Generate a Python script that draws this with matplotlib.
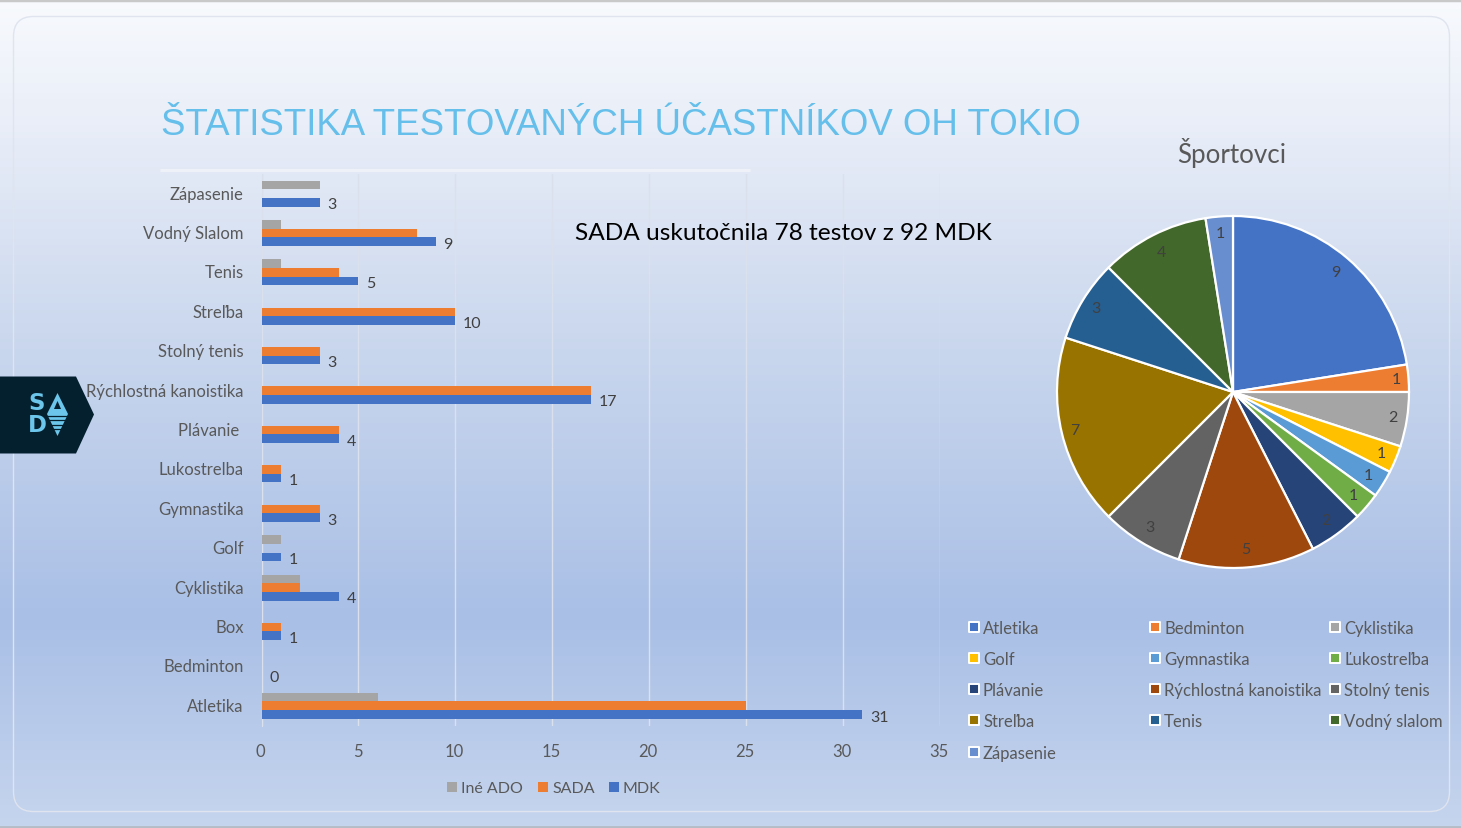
import matplotlib
matplotlib.use("Agg")
import matplotlib.pyplot as plt
import numpy as np
from matplotlib.colors import LinearSegmentedColormap
from matplotlib.patches import FancyBboxPatch, Polygon
from matplotlib.transforms import ScaledTranslation

W, H = 1461, 829

sports = ["Atletika", "Bedminton", "Box", "Cyklistika", "Golf", "Gymnastika", "Lukostrelba",
          "Plávanie ", "Rýchlostná kanoistika", "Stolný tenis", "Streľba", "Tenis",
          "Vodný Slalom", "Zápasenie"]
mdk = [31, 0, 1, 4, 1, 3, 1, 4, 17, 3, 10, 5, 9, 3]
sada = [25, 0, 1, 2, 0, 3, 1, 4, 17, 3, 10, 4, 8, 0]
ine_ado = [6, 0, 0, 2, 1, 0, 0, 0, 0, 0, 0, 1, 1, 3]

pie_names = ["Atletika", "Bedminton", "Cyklistika", "Golf", "Gymnastika", "Ľukostreľba", "Plávanie",
             "Rýchlostná kanoistika", "Stolný tenis", "Streľba", "Tenis", "Vodný slalom", "Zápasenie"]
pie_values = [9, 1, 2, 1, 1, 1, 2, 5, 3, 7, 3, 4, 1]
pie_colors = ["#4472c4", "#ed7d31", "#a5a5a5", "#ffc000", "#5b9bd5", "#70ad47", "#264478",
              "#9e480e", "#636363", "#997300", "#255e91", "#43682b", "#698ed0"]
# how far out each pie label sits, excel places them one by one
label_r = [.898, .929, .92, .912, .903, .902, .897, .894, .902, .925, .916, .894, .906]

plt.rcParams["font.family"] = ["Lato", "DejaVu Sans"]
TXT = "#595959"
LOGO = "#6cc5ea"
DARK = "#04202f"

fig = plt.figure(figsize=(W / 100, H / 100), dpi=100)

# background slide, pixel coordinates
bg = fig.add_axes([0, 0, 1, 1], zorder=0)
bg.set_xlim(0, W)
bg.set_ylim(H, 0)
bg.axis("off")
cmap = LinearSegmentedColormap.from_list("slide", [
    (0, "#f8fafd"), (0.15, "#e9eef8"), (0.4, "#cbd8ee"), (0.75, "#a9bfe6"), (1, "#c6d5ee")])
bg.imshow(np.linspace(0, 1, 256)[:, None], cmap=cmap, extent=[0, W, H, 0], aspect="auto")
bg.plot([0, W], [1, 1], color="#c9c9c9", lw=2.5)
bg.plot([0, W], [828, 828], color="#b5bcc6", lw=2)
bg.add_patch(FancyBboxPatch((13.5, 17.5), 1436, 795, boxstyle="round,pad=0,rounding_size=20",
                            fc="none", ec="#dfe4ee", lw=1))
bg.plot([160, 750], [171, 171], color="#eef2f8", lw=2.2, solid_capstyle="butt")

bg.text(161, 135, "ŠTATISTIKA TESTOVANÝCH ÚČASTNÍKOV OH TOKIO", family="Liberation Sans",
        fontsize=26.4, color="#65bfea", va="baseline", ha="left")
bg.text(1232, 153, "Športovci", fontsize=18.7, color=TXT, va="center", ha="center")

# logo
bg.add_patch(Polygon([(0, 377.5), (76, 377.5), (94, 415.5), (76, 454.5), (0, 454.5)], fc=DARK, ec="none"))
bg.text(37, 403, "S", family="DejaVu Sans", weight="bold", fontsize=16.5, color=LOGO, ha="center", va="center")
bg.text(37, 426, "D", family="DejaVu Sans", weight="bold", fontsize=16.5, color=LOGO, ha="center", va="center")
bg.add_patch(Polygon([(57.5, 394), (68, 415), (57.5, 437), (47, 415)], fc=LOGO, ec="none"))
bg.add_patch(Polygon([(57.5, 402), (61, 410), (54, 410)], fc=DARK, ec="none"))
for yy in [416.5, 421, 425.5, 430]:
    bg.plot([28, 69], [yy, yy], color=DARK, lw=0.9)

# bar legend
for x0, name, col in [(447, "Iné ADO", "#a5a5a5"), (538, "SADA", "#ed7d31"), (609, "MDK", "#4472c4")]:
    bg.scatter([x0 + 5], [788], s=52, marker="s", color=col, linewidths=0)
    bg.text(x0 + 14, 789, name, fontsize=11.5, color=TXT, va="center")

# pie legend
leg_x = [968, 1149, 1329]
leg_y = [629, 660, 691, 722, 754]
for i, (name, col) in enumerate(zip(pie_names, pie_colors)):
    x0, y0 = leg_x[i % 3], leg_y[i // 3]
    bg.scatter([x0 + 5.5], [y0 - 1], s=48, marker="s", color=col, edgecolors="white", linewidths=1.4)
    bg.text(x0 + 15, y0, name, fontsize=12, color=TXT, va="center")

# bars
ax = fig.add_axes([261.5 / W, 1 - 726.5 / H, (940 - 261.5) / W, (726.5 - 175) / H], zorder=1)
ax.patch.set_alpha(0)
y = np.arange(len(sports))
h = 0.22
bars_mdk = ax.barh(y - h, mdk, h, color="#4472c4", zorder=3)
ax.barh(y, sada, h, color="#ed7d31", zorder=3)
ax.barh(y + h, ine_ado, h, color="#a5a5a5", zorder=3)
for lab in ax.bar_label(bars_mdk, padding=5.4, fontsize=11.5, color="#404040"):
    lab.xyann = (lab.xyann[0], -1.5)
ax.set_xlim(0, 35)
ax.set_ylim(-0.5, len(sports) - 0.5)
ax.set_yticks(y)
ax.set_yticklabels(sports, fontsize=12, color=TXT)
ax.set_xticks(range(0, 40, 5))
ax.tick_params(axis="x", length=0, labelsize=12, labelcolor=TXT, pad=12.5)
ax.tick_params(axis="y", length=0, pad=12.7)
for lab in ax.get_yticklabels():
    lab.set_transform(lab.get_transform() + ScaledTranslation(0, 1.5 / 100, fig.dpi_scale_trans))
for lab in ax.get_xticklabels():
    lab.set_transform(lab.get_transform() + ScaledTranslation(-1 / 100, 0, fig.dpi_scale_trans))
ax.grid(axis="x", color="#dbe1ec", lw=1, zorder=0)
for s in ["top", "right", "bottom"]:
    ax.spines[s].set_visible(False)
ax.spines["left"].set_color("#dbe1ec")

# pie
R = 176
pax = fig.add_axes([(1233 - R) / W, 1 - (393 + R) / H, 2 * R / W, 2 * R / H], zorder=1)
wedges, texts = pax.pie(pie_values, labels=pie_values, colors=pie_colors, startangle=90, counterclock=False,
                        radius=1, wedgeprops={"edgecolor": "white", "linewidth": 1.6},
                        textprops={"fontsize": 11.5, "color": "#404040"})
for w, t, r in zip(wedges, texts, label_r):
    a = np.radians((w.theta1 + w.theta2) / 2)
    t.set_position((r * np.cos(a), r * np.sin(a)))
    t.set_ha("center")
    t.set_va("center")
pax.set_xlim(-1, 1)
pax.set_ylim(-1, 1)

# on top of the gridlines
fig.text(575 / W, 1 - 233 / H, "SADA uskutočnila 78 testov z 92 MDK", fontsize=17.6, color="black", va="center", zorder=5)

fig.savefig("out.png", dpi=100)
